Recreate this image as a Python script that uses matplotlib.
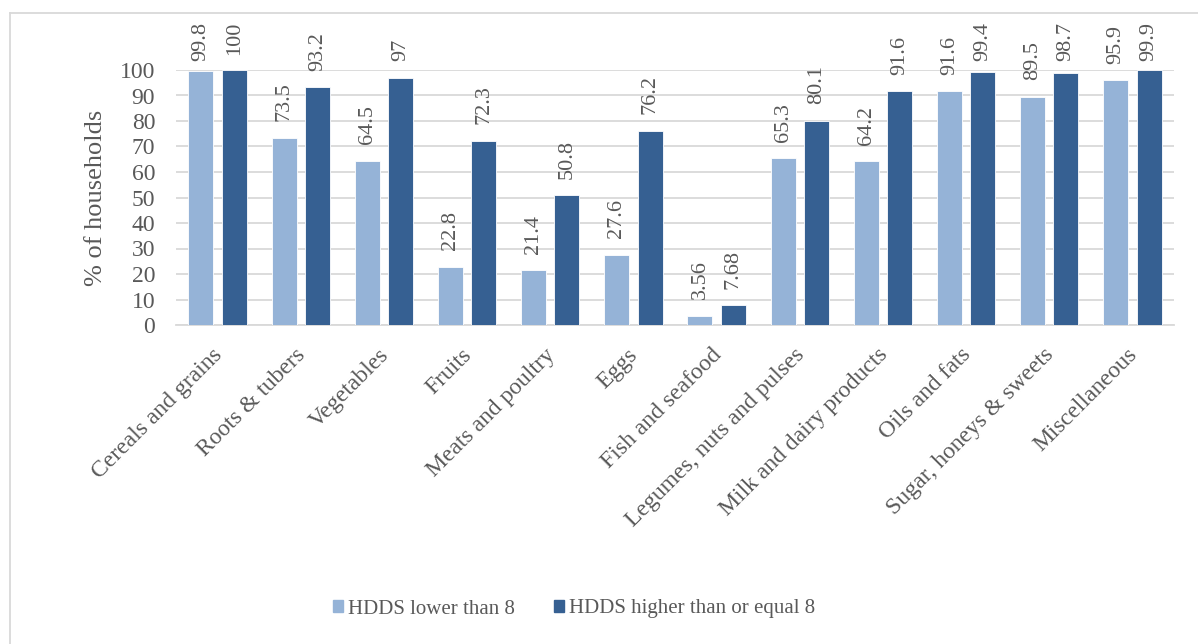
import matplotlib
matplotlib.use("Agg")
import matplotlib.pyplot as plt
from matplotlib.lines import Line2D
from matplotlib.transforms import ScaledTranslation
import numpy as np

categories = [
    "Cereals and grains", "Roots & tubers", "Vegetables", "Fruits",
    "Meats and poultry", "Eggs", "Fish and seafood",
    "Legumes, nuts and pulses", "Milk and dairy products", "Oils and fats",
    "Sugar, honeys & sweets", "Miscellaneous",
]
hdds_low = [99.8, 73.5, 64.5, 22.8, 21.4, 27.6, 3.56, 65.3, 64.2, 91.6, 89.5, 95.9]
hdds_high = [100, 93.2, 97, 72.3, 50.8, 76.2, 7.68, 80.1, 91.6, 99.4, 98.7, 99.9]
series_names = ["HDDS lower than 8", "HDDS higher than or equal 8"]
y_ticks = list(range(0, 101, 10))

LIGHT = "#95B3D7"
DARK = "#366092"
TEXT = "#595959"
GRID = "#D9D9D9"
SERIF = ["Liberation Serif", "DejaVu Serif"]

plt.rcParams["font.family"] = SERIF

W, H = 1198, 644
fig = plt.figure(figsize=(W / 100, H / 100), dpi=100)
ax = fig.add_axes([176 / W, 1 - 325 / H, (1174 - 176) / W, (325 - 70) / H])

x = np.arange(len(categories))
bw = 0.30
off = 0.20
b1 = ax.bar(x - off, hdds_low, bw, color=LIGHT, edgecolor="white", linewidth=0.6,
            label=series_names[0], zorder=3)
b2 = ax.bar(x + off, hdds_high, bw, color=DARK, edgecolor="white", linewidth=0.6,
            label=series_names[1], zorder=3)

ax.set_xlim(-0.5, len(categories) - 0.5)
ax.set_ylim(0, 100)
ax.set_yticks(y_ticks)
ax.yaxis.grid(True, color=GRID, linewidth=1.3, zorder=0)
ax.set_axisbelow(True)
for s in ["top", "right", "left"]:
    ax.spines[s].set_visible(False)
ax.spines["bottom"].set_color(GRID)
ax.spines["bottom"].set_linewidth(1.3)
ax.tick_params(axis="both", length=0, colors=TEXT)
ax.tick_params(axis="y", pad=15, labelsize=17)
ax.set_xticks(x)
ax.set_xticklabels(categories, rotation=45, ha="right", va="top",
                   rotation_mode="anchor", fontsize=17, color=TEXT)
ax.tick_params(axis="x", pad=14)
shift = ScaledTranslation(-6 / 100, 0, fig.dpi_scale_trans)
for lbl in ax.get_xticklabels():
    lbl.set_transform(lbl.get_transform() + shift)
ax.set_ylabel("% of households", fontsize=19, color=TEXT)
ax.yaxis.set_label_coords(-(176 - 107) / (1174 - 176), 0.5)

# value labels above each bar, kept inside the chart area
labels = []
for bars, vals in ((b1, hdds_low), (b2, hdds_high)):
    for rect, v in zip(bars, vals):
        t = ax.annotate(f"{v:g}", (rect.get_x() + rect.get_width() / 2, v),
                        xytext=(0, 12), textcoords="offset points",
                        rotation=90, ha="center", va="bottom",
                        fontsize=16, color=TEXT, annotation_clip=False)
        labels.append(t)

fig.canvas.draw()
renderer = fig.canvas.get_renderer()
top_limit = H - 22  # pixel y (from bottom) that labels must stay below
for t in labels:
    bb = t.get_window_extent(renderer)
    if bb.y1 > top_limit:
        dy = (bb.y1 - top_limit) * 72 / 100
        xo, yo = t.xyann
        t.xyann = (xo, yo - dy)

# legend
handles = [plt.Rectangle((0, 0), 1, 1, color=LIGHT), plt.Rectangle((0, 0), 1, 1, color=DARK)]
leg = fig.legend(handles, series_names, loc="center", bbox_to_anchor=(574 / W, 1 - 609 / H),
                 ncol=2, frameon=False, fontsize=15, handlelength=0.5, handleheight=0.5,
                 handletextpad=0.25, columnspacing=1.85)
for txt in leg.get_texts():
    txt.set_color(TEXT)

# chart area outline (top and left edges)
fig.add_artist(Line2D([10 / W, 1.0], [1 - 13 / H, 1 - 13 / H], color=GRID, linewidth=1.3,
                      transform=fig.transFigure))
fig.add_artist(Line2D([10 / W, 10 / W], [0, 1 - 13 / H], color=GRID, linewidth=1.3,
                      transform=fig.transFigure))

fig.savefig("out.png", dpi=100, facecolor="white")
